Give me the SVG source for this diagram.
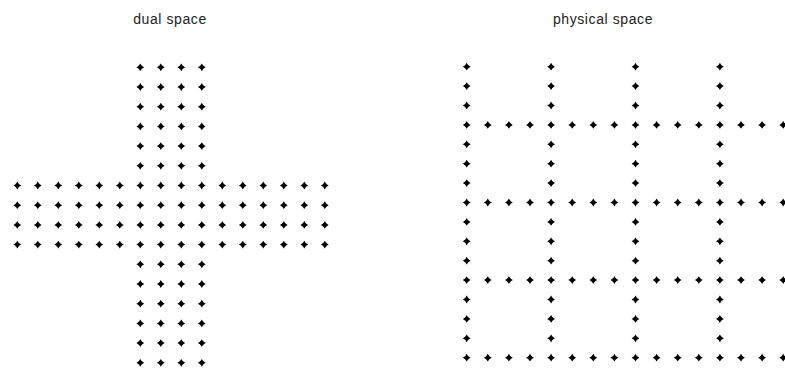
<svg xmlns="http://www.w3.org/2000/svg" xmlns:xlink="http://www.w3.org/1999/xlink" width="785" height="372" viewBox="0 0 785 372">
<style>
.t{font-family:"Liberation Sans","DejaVu Sans",sans-serif;font-size:14px;letter-spacing:0.6px;fill:#222;text-anchor:middle}
</style>
<defs>
<path id="d" d="M0,-3.9 L1.5,-1.5 L3.9,0 L1.5,1.5 L0,3.9 L-1.5,1.5 L-3.9,0 L-1.5,-1.5 Z M-1.8,-1.8 H1.8 V1.8 H-1.8 Z" fill="#000"/>
</defs>
<rect width="785" height="372" fill="#fff"/>
<text class="t" x="170" y="24">dual space</text>
<text class="t" x="603" y="24">physical space</text>
<g id="dual">
<use xlink:href="#d" x="140.3" y="67.3"/><use xlink:href="#d" x="160.8" y="67.3"/><use xlink:href="#d" x="181.3" y="67.3"/><use xlink:href="#d" x="201.8" y="67.3"/>
<use xlink:href="#d" x="140.3" y="87"/><use xlink:href="#d" x="160.8" y="87"/><use xlink:href="#d" x="181.3" y="87"/><use xlink:href="#d" x="201.8" y="87"/>
<use xlink:href="#d" x="140.3" y="106.7"/><use xlink:href="#d" x="160.8" y="106.7"/><use xlink:href="#d" x="181.3" y="106.7"/><use xlink:href="#d" x="201.8" y="106.7"/>
<use xlink:href="#d" x="140.3" y="126.4"/><use xlink:href="#d" x="160.8" y="126.4"/><use xlink:href="#d" x="181.3" y="126.4"/><use xlink:href="#d" x="201.8" y="126.4"/>
<use xlink:href="#d" x="140.3" y="146.1"/><use xlink:href="#d" x="160.8" y="146.1"/><use xlink:href="#d" x="181.3" y="146.1"/><use xlink:href="#d" x="201.8" y="146.1"/>
<use xlink:href="#d" x="140.3" y="165.8"/><use xlink:href="#d" x="160.8" y="165.8"/><use xlink:href="#d" x="181.3" y="165.8"/><use xlink:href="#d" x="201.8" y="165.8"/>
<g id="band">
<use xlink:href="#d" x="17.3" y="185.5"/><use xlink:href="#d" x="37.8" y="185.5"/><use xlink:href="#d" x="58.3" y="185.5"/><use xlink:href="#d" x="78.8" y="185.5"/><use xlink:href="#d" x="99.3" y="185.5"/><use xlink:href="#d" x="119.8" y="185.5"/><use xlink:href="#d" x="140.3" y="185.5"/><use xlink:href="#d" x="160.8" y="185.5"/><use xlink:href="#d" x="181.3" y="185.5"/><use xlink:href="#d" x="201.8" y="185.5"/><use xlink:href="#d" x="222.3" y="185.5"/><use xlink:href="#d" x="242.8" y="185.5"/><use xlink:href="#d" x="263.3" y="185.5"/><use xlink:href="#d" x="283.8" y="185.5"/><use xlink:href="#d" x="304.3" y="185.5"/><use xlink:href="#d" x="324.8" y="185.5"/>
</g>
<use xlink:href="#band" y="19.7"/>
<use xlink:href="#band" y="39.4"/>
<use xlink:href="#band" y="59.1"/>
<use xlink:href="#d" x="140.3" y="264.3"/><use xlink:href="#d" x="160.8" y="264.3"/><use xlink:href="#d" x="181.3" y="264.3"/><use xlink:href="#d" x="201.8" y="264.3"/>
<use xlink:href="#d" x="140.3" y="284"/><use xlink:href="#d" x="160.8" y="284"/><use xlink:href="#d" x="181.3" y="284"/><use xlink:href="#d" x="201.8" y="284"/>
<use xlink:href="#d" x="140.3" y="303.7"/><use xlink:href="#d" x="160.8" y="303.7"/><use xlink:href="#d" x="181.3" y="303.7"/><use xlink:href="#d" x="201.8" y="303.7"/>
<use xlink:href="#d" x="140.3" y="323.4"/><use xlink:href="#d" x="160.8" y="323.4"/><use xlink:href="#d" x="181.3" y="323.4"/><use xlink:href="#d" x="201.8" y="323.4"/>
<use xlink:href="#d" x="140.3" y="343.1"/><use xlink:href="#d" x="160.8" y="343.1"/><use xlink:href="#d" x="181.3" y="343.1"/><use xlink:href="#d" x="201.8" y="343.1"/>
<use xlink:href="#d" x="140.3" y="362.8"/><use xlink:href="#d" x="160.8" y="362.8"/><use xlink:href="#d" x="181.3" y="362.8"/><use xlink:href="#d" x="201.8" y="362.8"/>
</g>
<g id="physical">
<g id="vcol">
<use xlink:href="#d" x="466.7" y="66.7"/><use xlink:href="#d" x="466.7" y="86.1"/><use xlink:href="#d" x="466.7" y="105.5"/>
<use xlink:href="#d" x="466.7" y="144.3"/><use xlink:href="#d" x="466.7" y="163.7"/><use xlink:href="#d" x="466.7" y="183.1"/>
<use xlink:href="#d" x="466.7" y="221.9"/><use xlink:href="#d" x="466.7" y="241.3"/><use xlink:href="#d" x="466.7" y="260.7"/>
<use xlink:href="#d" x="466.7" y="299.5"/><use xlink:href="#d" x="466.7" y="318.9"/><use xlink:href="#d" x="466.7" y="338.3"/>
</g>
<use xlink:href="#vcol" x="84.4"/>
<use xlink:href="#vcol" x="168.8"/>
<use xlink:href="#vcol" x="253.2"/>
<g id="hrow">
<use xlink:href="#d" x="466.7" y="124.9"/><use xlink:href="#d" x="487.8" y="124.9"/><use xlink:href="#d" x="508.9" y="124.9"/><use xlink:href="#d" x="530" y="124.9"/><use xlink:href="#d" x="551.1" y="124.9"/><use xlink:href="#d" x="572.2" y="124.9"/><use xlink:href="#d" x="593.3" y="124.9"/><use xlink:href="#d" x="614.4" y="124.9"/><use xlink:href="#d" x="635.5" y="124.9"/><use xlink:href="#d" x="656.6" y="124.9"/><use xlink:href="#d" x="677.7" y="124.9"/><use xlink:href="#d" x="698.8" y="124.9"/><use xlink:href="#d" x="719.9" y="124.9"/><use xlink:href="#d" x="741" y="124.9"/><use xlink:href="#d" x="762.1" y="124.9"/><use xlink:href="#d" x="783.2" y="124.9"/>
</g>
<use xlink:href="#hrow" y="77.6"/>
<use xlink:href="#hrow" y="155.2"/>
<use xlink:href="#hrow" y="232.8"/>
</g>
</svg>
